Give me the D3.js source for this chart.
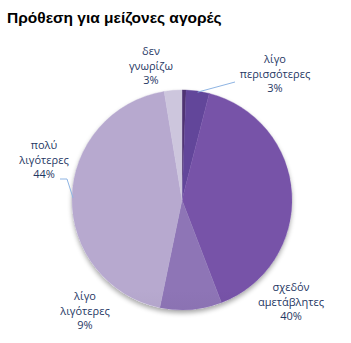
<!DOCTYPE html>
<html>
<head>
<meta charset="utf-8">
<script src="https://cdn.jsdelivr.net/npm/d3@7"></script>
<style>
  html, body { margin: 0; padding: 0; background: #fff; }
  svg { display: block; }
</style>
</head>
<body>
<script>
'use strict';

// categories and shares (percent)
const categories = ["πολύ περισσότερες", "λίγο περισσότερες", "σχεδόν αμετάβλητες", "λίγο λιγότερες", "πολύ λιγότερες", "δεν γνωρίζω"];
const shares = [0.6, 3.4, 40.3, 9.1, 44.3, 2.6];
// label lines (null = not labelled on the chart)
const labelLines = [null, ["λίγο", "περισσότερες"], ["σχεδόν", "αμετάβλητες"], ["λίγο", "λιγότερες"], ["πολύ", "λιγότερες"], ["δεν", "γνωρίζω"]];
const labelText = ["", "3%", "40%", "9%", "44%", "3%"];

(function() {
  const width = 351, height = 343;
  const cx = 182, cy = 200, radius = 110;

  // slice colours: top and bottom of the vertical gradient
  const colorsTop = ["#4f3372", "#62469a", "#7753a8", "#8e75b6", "#b7a9cf", "#cdc6dd"];
  const colorsBottom = ["#3f2a5c", "#523a80", "#52397b", "#6b588e", "#8a8099", "#b2aabf"];

  // where each label is placed (centre x, first baseline y) and its leader line
  const labelLayout = [
    null,
    {x: 275, y: 63, leader: [[235, 82]]},
    {x: 291, y: 291},
    {x: 85, y: 300},
    {x: 44, y: 149, leader: [[67, 179], [60, 179]]},
    {x: 151, y: 55}
  ];

  const svg = d3.select('body')
    .append('svg')
    .attr('width', width)
    .attr('height', height);

  const defs = svg.append('defs');

  // soft shadow under the pie
  const shadow = defs.append('filter')
    .attr('id', 'shadow')
    .attr('x', '-20%').attr('y', '-20%')
    .attr('width', '140%').attr('height', '140%');
  shadow.append('feGaussianBlur').attr('in', 'SourceAlpha').attr('stdDeviation', 2.5);
  shadow.append('feOffset').attr('dx', 0).attr('dy', 3).attr('result', 'blur');
  shadow.append('feComponentTransfer').append('feFuncA').attr('type', 'linear').attr('slope', 0.35);
  const merge = shadow.append('feMerge');
  merge.append('feMergeNode');
  merge.append('feMergeNode').attr('in', 'SourceGraphic');

  categories.forEach((c, i) => {
    const g = defs.append('linearGradient')
      .attr('id', 'grad' + i)
      .attr('gradientUnits', 'userSpaceOnUse')
      .attr('x1', 0).attr('y1', cy - radius)
      .attr('x2', 0).attr('y2', cy + radius);
    g.append('stop').attr('offset', '0%').attr('stop-color', colorsTop[i]);
    g.append('stop').attr('offset', '100%').attr('stop-color', colorsBottom[i]);
  });

  // title
  svg.append('text')
    .attr('x', 7)
    .attr('y', 23)
    .style('font-family', 'Liberation Sans, Arial, sans-serif')
    .style('font-weight', 'bold')
    .style('font-size', '15.5px')
    .style('fill', '#000')
    .text('Πρόθεση για μείζονες αγορές');

  const pie = d3.pie().sort(null).value(d => d);
  const arcs = pie(shares);

  const arc = d3.arc().innerRadius(0).outerRadius(radius);

  const pieG = svg.append('g')
    .attr('transform', 'translate(' + cx + ',' + cy + ')');

  // shadow layer
  pieG.append('circle')
    .attr('r', radius)
    .attr('fill', '#fff')
    .attr('filter', 'url(#shadow)');

  pieG.selectAll('path')
    .data(arcs)
    .enter()
    .append('path')
      .attr('d', arc)
      .attr('fill', (d, i) => 'url(#grad' + i + ')')
      .attr('stroke', (d, i) => colorsTop[i])
      .attr('stroke-width', 0.4);

  // leader lines
  const line = d3.line();
  arcs.forEach((d, i) => {
    const lay = labelLayout[i];
    if (!lay || !lay.leader) return;
    const mid = (d.startAngle + d.endAngle) / 2;
    const start = [cx + Math.sin(mid) * (radius - 1), cy - Math.cos(mid) * (radius - 1)];
    svg.append('path')
      .attr('d', line([start].concat(lay.leader)))
      .attr('fill', 'none')
      .attr('stroke', '#8eb4e3')
      .attr('stroke-width', 1);
  });

  // labels
  arcs.forEach((d, i) => {
    const lay = labelLayout[i];
    if (!lay || !labelLines[i]) return;
    const t = svg.append('text')
      .attr('text-anchor', 'middle')
      .style('font-family', 'Open Sans, sans-serif')
      .style('font-size', '11px')
      .style('fill', '#1f3864');
    labelLines[i].concat([labelText[i]]).forEach((s, k) => {
      t.append('tspan')
        .attr('x', lay.x)
        .attr('y', lay.y + k * 14.5)
        .text(s);
    });
  });
})();
</script>
</body>
</html>
